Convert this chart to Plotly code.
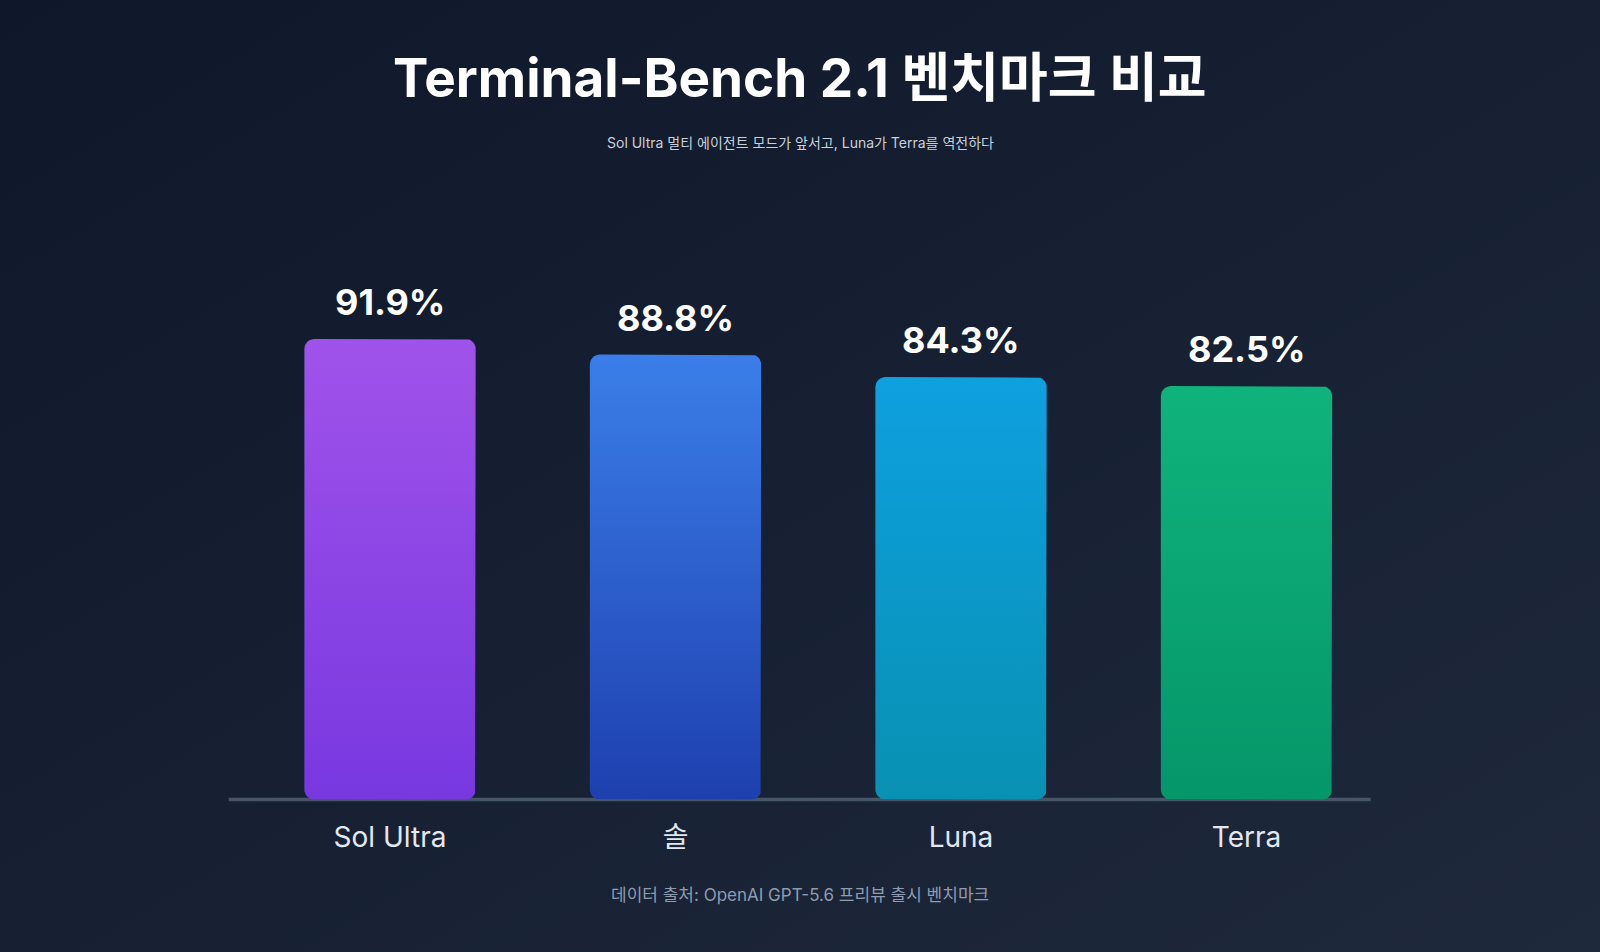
import base64
import numpy as np
import plotly.graph_objects as go

# ---- data ----
categories = ["Sol Ultra", "솔", "Luna", "Terra"]
scores = [91.9, 88.8, 84.3, 82.5]
value_labels = ["91.9%", "88.8%", "84.3%", "82.5%"]
top_colors = ["#a053ea", "#3b7ee9", "#0ea0e0", "#10b37c"]
bottom_colors = ["#7838e0", "#1e40af", "#0891b2", "#059669"]

title_text = "Terminal-Bench 2.1 벤치마크 비교"
subtitle_text = "Sol Ultra 멀티 에이전트 모드가 앞서고, Luna가 Terra를 역전하다"
footer_text = "데이터 출처: OpenAI GPT-5.6 프리뷰 출시 벤치마크"

FONT = "Inter, 'Noto Sans CJK KR', 'Noto Sans', sans-serif"
W, H = 1600, 952


def rounded_bar(xc, h, hw=0.3, rx=0.035, ry=2.0, n=10):
    xs, ys = [], []

    def arc(cx, cy, a0, a1):
        t = np.linspace(np.radians(a0), np.radians(a1), n)
        xs.extend(cx + rx * np.cos(t))
        ys.extend(cy + ry * np.sin(t))

    arc(xc - hw + rx, h - ry, 180, 90)
    arc(xc + hw - rx, h - ry, 90, 0)
    arc(xc + hw - rx, ry, 0, -90)
    arc(xc - hw + rx, ry, -90, -180)
    xs.append(xs[0])
    ys.append(ys[0])
    return xs, ys


fig = go.Figure()
for i, (cat, v) in enumerate(zip(categories, scores)):
    xs, ys = rounded_bar(i, v)
    fig.add_trace(go.Scatter(
        x=xs, y=ys, mode="lines", fill="toself",
        line=dict(width=0, color=top_colors[i]),
        fillgradient=dict(type="vertical",
                          colorscale=[[0, bottom_colors[i]], [1, top_colors[i]]]),
        name=cat, hoverinfo="skip", showlegend=False,
    ))

annotations = []
for i, (v, lab) in enumerate(zip(scores, value_labels)):
    annotations.append(dict(
        x=i, y=v, xref="x", yref="y", text=lab, showarrow=False,
        yanchor="middle", yshift=37,
        font=dict(family=FONT, size=36, color="#ffffff", weight=700),
    ))

annotations += [
    dict(x=0.5, y=1 - 78 / H, xref="paper", yref="paper", text=title_text,
         showarrow=False, xanchor="center", yanchor="middle",
         font=dict(family=FONT, size=53, color="#ffffff", weight=700)),
    dict(x=0.5, y=1 - 142 / H, xref="paper", yref="paper", text=subtitle_text,
         showarrow=False, xanchor="center", yanchor="middle",
         font=dict(family=FONT, size=14, color="#c8d0dc")),
    dict(x=0.5, y=1 - 895 / H, xref="paper", yref="paper", text=footer_text,
         showarrow=False, xanchor="center", yanchor="middle",
         font=dict(family=FONT, size=17, color="#8f9bb0")),
]

svg = ("<svg xmlns='http://www.w3.org/2000/svg' width='1600' height='952' "
       "preserveAspectRatio='none'><defs><linearGradient id='g' x1='0' y1='0' "
       "x2='1' y2='1'><stop offset='0' stop-color='#0f172a'/>"
       "<stop offset='1' stop-color='#1e293b'/></linearGradient></defs>"
       "<rect width='1600' height='952' fill='url(#g)'/></svg>")
bg_src = "data:image/svg+xml;base64," + base64.b64encode(svg.encode()).decode()

fig.update_layout(
    width=W, height=H, autosize=False,
    margin=dict(l=0, r=0, t=0, b=0),
    paper_bgcolor="#172033", plot_bgcolor="rgba(0,0,0,0)",
    images=[dict(source=bg_src, xref="paper", yref="paper", x=0, y=1,
                 sizex=1, sizey=1, sizing="stretch", xanchor="left",
                 yanchor="top", layer="below")],
    shapes=[dict(type="line", xref="x domain", yref="y", x0=0, x1=1,
                 y0=0, y1=0, layer="below",
                 line=dict(color="#475569", width=3.5))],
    annotations=annotations,
    xaxis=dict(domain=[228.7 / W, 1370.7 / W], range=[-0.565, 3.435],
               tickmode="array", tickvals=list(range(len(categories))),
               ticktext=categories, showgrid=False, zeroline=False,
               showline=False, ticks="", ticklabelstandoff=13,
               tickfont=dict(family=FONT, size=28, color="#e2e8f0"),
               fixedrange=True),
    yaxis=dict(domain=[(H - 804.5) / H, (H - 298.4) / H], range=[-1, 100],
               visible=False, fixedrange=True),
    showlegend=False,
)

fig.write_html("out.html")
